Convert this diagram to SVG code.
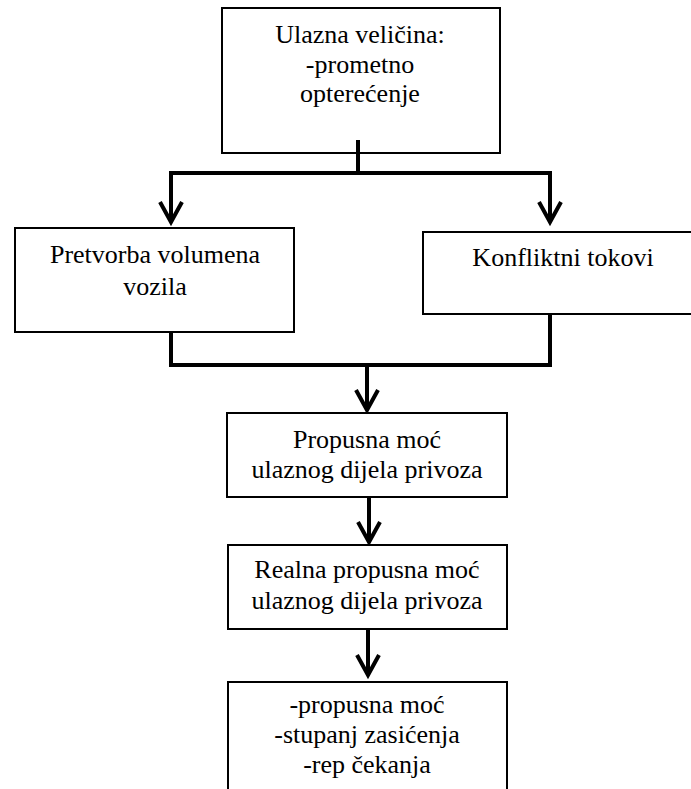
<svg xmlns="http://www.w3.org/2000/svg" width="691" height="789" viewBox="0 0 691 789">
<style>
.box{fill:#fff;stroke:#000;stroke-width:2}
.t{font-family:"Liberation Serif","Times New Roman",serif;font-size:26px;fill:#000;text-anchor:middle}
.c{fill:none;stroke:#000;stroke-width:4;stroke-linejoin:miter}
.ah{fill:none;stroke:#000;stroke-width:4;stroke-linejoin:miter}
</style>
<rect width="691" height="789" fill="#fff"/>
<g id="n1">
<rect class="box" x="222" y="8" width="278" height="145"/>
<text class="t" x="360" y="43">Ulazna veličina:</text>
<text class="t" x="360" y="73">-prometno</text>
<text class="t" x="360" y="102">opterećenje</text>
</g>
<g id="n2">
<rect class="box" x="15" y="228" width="279" height="104"/>
<text class="t" x="155" y="263">Pretvorba volumena</text>
<text class="t" x="155" y="295">vozila</text>
</g>
<g id="n3">
<rect class="box" x="423" y="232" width="282" height="82"/>
<text class="t" x="563" y="266">Konfliktni tokovi</text>
</g>
<g id="n4">
<rect class="box" x="227" y="413" width="280" height="84"/>
<text class="t" x="367" y="448">Propusna moć</text>
<text class="t" x="367" y="478">ulaznog dijela privoza</text>
</g>
<g id="n5">
<rect class="box" x="228" y="545" width="279" height="84"/>
<text class="t" x="367" y="578">Realna propusna moć</text>
<text class="t" x="367" y="609">ulaznog dijela privoza</text>
</g>
<g id="n6">
<rect class="box" x="228" y="682" width="279" height="112"/>
<text class="t" x="367" y="713">-propusna moć</text>
<text class="t" x="367" y="743">-stupanj zasićenja</text>
<text class="t" x="367" y="773">-rep čekanja</text>
</g>
<g id="connectors">
<path class="c" d="M358 140 V173"/>
<path class="c" d="M171 221 V173 H550 V221"/>
<path class="ah" d="M160 202 L171 222 L182 202"/>
<path class="ah" d="M539 202 L550 222 L561 202"/>
<path class="c" d="M171 332 V365 H550 V314"/>
<path class="c" d="M367 365 V409"/>
<path class="ah" d="M356 390 L367 410 L378 390"/>
<path class="c" d="M369 497 V541"/>
<path class="ah" d="M358 522 L369 542 L380 522"/>
<path class="c" d="M368 629 V674"/>
<path class="ah" d="M357 655 L368 675 L379 655"/>
</g>
</svg>
